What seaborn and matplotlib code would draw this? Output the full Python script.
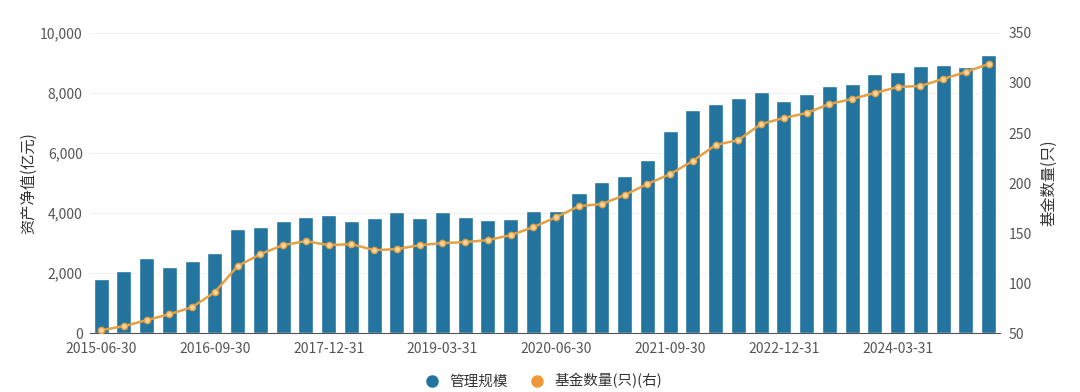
import numpy as np
import pandas as pd
import matplotlib
matplotlib.use("Agg")
import matplotlib.pyplot as plt
from matplotlib.lines import Line2D
import seaborn as sns

# quarterly report dates, 2015-06-30 .. 2025-03-31
dates = pd.date_range("2015-06-30", "2025-03-31", freq="QE").strftime("%Y-%m-%d").tolist()

# 管理规模 (亿元), left axis
aum = [1800, 2080, 2520, 2200, 2420, 2680, 3480, 3530, 3730, 3880,
       3940, 3730, 3820, 4040, 3840, 4040, 3870, 3760, 3810, 4080,
       4080, 4670, 5040, 5220, 5780, 6720, 7440, 7620, 7830, 8040,
       7740, 7960, 8240, 8310, 8630, 8690, 8910, 8920, 8860, 9270]

# 基金数量 (只), right axis
fund_count = [53, 57, 63, 69, 76, 91, 117, 129, 138, 142,
              138, 139, 133, 134, 138, 140, 141, 143, 148, 156,
              166, 177, 179, 188, 199, 209, 222, 238, 243, 259,
              265, 270, 279, 284, 290, 296, 297, 304, 311, 319]

BAR_COLOR = "#23749f"
LINE_COLOR = "#e5a043"
TEXT_COLOR = "#555555"

sns.set_style("white")
plt.rcParams["font.family"] = ["Noto Sans CJK SC", "DejaVu Sans"]
plt.rcParams["axes.unicode_minus"] = False

df = pd.DataFrame({"date": dates, "aum": aum, "count": fund_count})
df["pos"] = np.arange(len(df))

fig = plt.figure(figsize=(10.8, 3.92), dpi=100)
ax = fig.add_axes([0.083, 0.150, 0.843, 0.766])

sns.barplot(data=df, x="pos", y="aum", color=BAR_COLOR, width=0.66,
            saturation=1, ax=ax, native_scale=True)
ax.set_xlim(-0.5, len(df) - 0.5)
ax.set_ylim(0, 10000)
ax.set_yticks(range(0, 10001, 2000))
ax.set_yticklabels([f"{v:,}" for v in range(0, 10001, 2000)])
ax.grid(axis="y", color="#f0f0f0", linewidth=0.8)
ax.set_axisbelow(True)
ax.set_xticks(df["pos"][::5])
ax.set_xticklabels(df["date"][::5])
ax.set_xlabel("")
ax.set_ylabel("资产净值(亿元)", fontsize=11, color="#333333", labelpad=2)
for side in ["top", "right", "left"]:
    ax.spines[side].set_visible(False)
ax.spines["bottom"].set_color("#555555")
ax.tick_params(axis="x", colors=TEXT_COLOR, labelsize=10, length=4, width=0.8,
               direction="out", pad=2, color="#555555")
ax.tick_params(axis="y", colors=TEXT_COLOR, labelsize=10, length=0, pad=5)

ax2 = ax.twinx()
sns.lineplot(data=df, x="pos", y="count", color=LINE_COLOR, linewidth=1.8,
             marker="o", markersize=4.5, markerfacecolor="#f6d49a",
             markeredgecolor=LINE_COLOR, markeredgewidth=1, ax=ax2)
ax2.set_ylim(50, 350)
ax2.set_yticks(range(50, 351, 50))
ax2.set_ylabel("基金数量(只)", fontsize=11, color="#333333", rotation=90, labelpad=6)
ax2.set_xlabel("")
for side in ["top", "right", "left", "bottom"]:
    ax2.spines[side].set_visible(False)
ax2.tick_params(axis="y", colors=TEXT_COLOR, labelsize=10, length=0, pad=6)
ax2.grid(False)

handles = [
    Line2D([], [], marker="o", linestyle="", markersize=8, color=BAR_COLOR),
    Line2D([], [], marker="o", linestyle="", markersize=8, color="#f0993a"),
]
fig.legend(handles, ["管理规模", "基金数量(只)(右)"], loc="center",
           bbox_to_anchor=(0.5, 0.028), ncol=2, frameon=False, fontsize=10.5,
           handletextpad=0.2, columnspacing=1.0, labelcolor="#333333")

fig.savefig("out.png", dpi=100)
plt.close(fig)
